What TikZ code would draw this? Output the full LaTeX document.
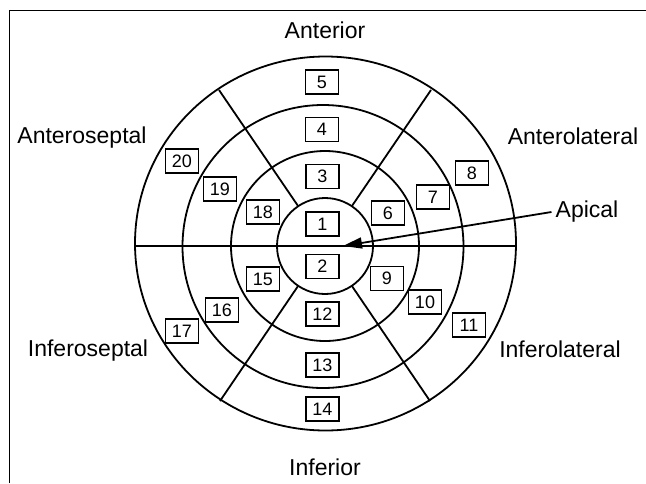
\documentclass[tikz,border=0pt]{standalone}
\usepackage{fontspec}
\setmainfont{Liberation Sans}
\usetikzlibrary{arrows.meta}
\begin{document}
\begin{tikzpicture}[x=1pt,y=-1pt,
  ring/.style={line width=1.8pt},
  spoke/.style={line width=1.8pt},
  numbox/.style={draw,line width=1.5pt,minimum width=33pt,minimum height=24pt,inner sep=0pt,font=\fontsize{18}{18}\selectfont},
  region/.style={font=\fontsize{23}{23}\selectfont,inner sep=0pt},
  frameline/.style={line width=1pt}]
\useasboundingbox (0,0) rectangle (646,483);
% frame
\draw[frameline] (9,483) -- (9,10) -- (646,10);
% rings
\draw[ring] (325.5,243.5) ellipse [x radius=190.5, y radius=187];
\draw[ring] (323,246.5) ellipse [x radius=140.5, y radius=141.5];
\draw[ring] (325,246) ellipse [x radius=94, y radius=95];
\draw[ring] (325,246) ellipse [x radius=48, y radius=48];
% horizontal divider
\draw[spoke] (135,246) -- (516,246);
% spokes
\draw[spoke] (298.2,206.2) -- (219,90);
\draw[spoke] (351.8,206.2) -- (431,90);
\draw[spoke] (298.2,285.8) -- (220,401);
\draw[spoke] (351.8,285.8) -- (430,401);
% numbered boxes
\node[numbox] (b1) at (322.5,224) {1};
\node[numbox] (b2) at (322.5,266.5) {2};
\node[numbox] (b3) at (322.5,176.5) {3};
\node[numbox] (b4) at (322,129.5) {4};
\node[numbox] (b5) at (322,82) {5};
\node[numbox] (b6) at (388,213) {6};
\node[numbox] (b7) at (433,197) {7};
\node[numbox] (b8) at (472,173) {8};
\node[numbox] (b9) at (387,278.5) {9};
\node[numbox] (b10) at (425,302) {10};
\node[numbox] (b11) at (469,325) {11};
\node[numbox] (b12) at (322.5,314) {12};
\node[numbox] (b13) at (322.5,365) {13};
\node[numbox] (b14) at (322.5,409) {14};
\node[numbox] (b15) at (263,279) {15};
\node[numbox] (b16) at (222,310) {16};
\node[numbox] (b17) at (182,331) {17};
\node[numbox] (b18) at (263,212) {18};
\node[numbox] (b19) at (220,189) {19};
\node[numbox] (b20) at (182,161) {20};
% region labels
\node[region] (anterior) at (325,30) {Anterior};
\node[region] (inferior) at (325,467) {Inferior};
\node[region] (anteroseptal) at (82,138) {Anteroseptal};
\node[region] (anterolateral) at (573,136) {Anterolateral};
\node[region] (inferoseptal) at (88,351) {Inferoseptal};
\node[region] (inferolateral) at (560,349) {Inferolateral};
\node[region] (apical) at (587,212) {Apical};
% arrow
\coordinate (tip) at (343,246);
\draw[line width=1.8pt,-{Triangle[length=19pt,width=11pt]}] ([xshift=-4pt]apical.west) -- (tip);
\end{tikzpicture}
\end{document}
